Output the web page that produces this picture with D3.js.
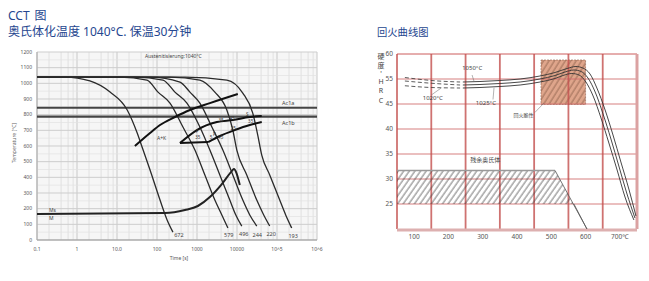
<!DOCTYPE html>
<html>
<head>
<meta charset="utf-8">
<script src="https://cdn.jsdelivr.net/npm/d3@7"></script>
<style>
body{margin:0;background:#fff}
svg{display:block}
text{font-family:"Noto Sans","Noto Sans CJK SC",sans-serif}
</style>
</head>
<body>
<svg width="649" height="281"></svg>
<script>
// ---------- CCT diagram data (time in s, temperature in °C) ----------
var cctTimeTicks = [0.1, 1, 10, 100, 1000, 10000, 1e5, 1e6];
var cctTimeLabels = ["0.1", "1", "10.0", "100", "1000", "10000", "10^5", "10^6"];
var cctTempTicks = d3.range(0, 1201, 100);
var acNames = ["Ac1a", "Ac1b"];
var acTemps = [844, 787];

var cool1 = [[0.1,1040],[0.5,1040],[2.1,1015],[6.7,944],[18,830],[32,683],[45,574],[67,447],[119,255],[179,128],[250,50]];
var cool2 = [[0.1,1040],[12,1040],[56,1021],[106,944],[211,874],[445,721],[887,574],[1574,415],[2794,255],[4178,160],[5900,77]];
var cool3 = [[0.1,1040],[28,1040],[141,1021],[281,944],[560,874],[1180,721],[2099,574],[3724,415],[6607,255],[9333,160],[13180,89]];
var cool4 = [[0.1,1040],[67,1040],[375,1008],[666,944],[1180,874],[2355,721],[4426,574],[7857,415],[13960,255],[20850,160],[31180,89]];
var cool5 = [[0.1,1040],[211,1040],[1180,1021],[2797,944],[5570,830],[7857,702],[9890,574],[17540,415],[31180,255],[46560,160],[65800,89]];
var cool6 = [[0.1,1040],[499,1040],[5570,1021],[13960,938],[24770,810],[33010,670],[41560,542],[65800,415],[116900,255],[164900,160],[232700,77]];
var coolCurves = [cool1, cool2, cool3, cool4, cool5, cool6];
var coolLabels = ["672", "579", "496", "244", "220", "193"];
var coolLabelTimes = [354, 6240, 14760, 32080, 71620, 253500];
var coolLabelTemps = [18, 18, 24, 18, 24, 12];

var ferriteStart = [[28,600],[67,683],[119,734],[281,785],[666,830],[2099,874],[10470,932]];
var pearliteOuter = [[375,619],[995,702],[3135,753],[7857,766],[20850,785],[41560,791]];
var pearliteBase = [[375,619],[1900,625]];
var pearliteInner = [[1900,625],[3724,664],[8810,702],[20850,734],[41560,753]];
var msCurve = [[0.1,166],[158,172],[499,191],[1053,217],[2099,274],[4178,357],[7413,440],[8318,453],[11750,351]];

var regionLabels = [["F",1000,680],["35",1050,645],["5",2250,645],["P",2700,665],["45",3900,645],
                    ["25",8100,700],["35",4000,755],["45",7500,765],["S",18000,790],["35",22000,745]];

// ---------- tempering curve data (°C, HRC) ----------
var tempTicks = [100, 200, 300, 400, 500, 600, 700];
var tempTickLabels = ["100", "200", "300", "400", "500", "600", "700℃"];
var tempGrid = [50, 150, 250, 350, 450, 550, 650, 750];
var hrcTicks = [25, 30, 35, 40, 45, 55, 60];

var dash1 = [[73,55.3],[150,54.4],[234,53.8]];
var dash2 = [[73,54.2],[150,53.3],[234,52.6]];
var dash3 = [[73,52.3],[150,51.6],[234,51.4]];
var hard1050 = [[242,53.8],[292,54.0],[350,54.4],[409,55.0],[467,55.6],[511,56.3],[546,57.1],[572,57.5],[592,57.2],[613,56.0],[633,51.4],[657,43.8],[680,38.8],[703,33.4],[727,27.8],[747,22.6]];
var hardMid = [[242,52.6],[292,52.8],[350,53.2],[409,53.8],[467,55.0],[511,55.7],[540,56.4],[566,56.8],[587,56.5],[607,55.2],[628,49.8],[651,43.0],[674,38.0],[697,32.6],[720,27.2],[744,22.2]];
var hard1025 = [[242,51.4],[292,51.6],[350,52.0],[409,52.6],[467,53.8],[511,55.1],[534,55.7],[560,56.1],[581,55.8],[601,53.8],[622,48.2],[645,42.2],[668,37.2],[692,31.8],[715,26.4],[741,21.8]];
var brittleBox = [470, 600, 58.8, 44.9];
var retainedAustenite = [[50,31.7],[511,31.7],[604,20],[566,25],[50,25]];

var svg = d3.select("svg");
var defs = svg.append("defs");

// ---------- titles ----------
var t1 = svg.append("text").attr("x", 8).attr("y", 20).attr("font-size", 12).attr("fill", "#25468f");
t1.append("tspan").text("CCT");
t1.append("tspan").attr("dx", 5).text("图");
svg.append("text").attr("x", 8).attr("y", 36).attr("font-size", 12).attr("fill", "#25468f").text("奥氏体化温度 1040°C. 保温30分钟");
svg.append("text").attr("x", 377).attr("y", 36).attr("font-size", 10.3).attr("fill", "#25468f").text("回火曲线图");

// ---------- CCT chart ----------
var xL = d3.scaleLog().domain([0.1, 1e6]).range([37, 317]);
var yL = d3.scaleLinear().domain([0, 1200]).range([240, 52]);
var gL = svg.append("g");

gL.append("rect")
  .attr("x", xL(0.1)).attr("y", yL(1200))
  .attr("width", xL(1e6) - xL(0.1)).attr("height", yL(0) - yL(1200))
  .attr("fill", "#f6f6f6");

var minorTimes = [];
for (var e = -1; e < 6; e++) [2, 4, 6, 8].forEach(function(m){ minorTimes.push(m * Math.pow(10, e)); });

gL.selectAll(".vminor").data(minorTimes).enter().append("line")
  .attr("x1", xL).attr("x2", xL).attr("y1", yL(1200)).attr("y2", yL(0))
  .attr("stroke", "#dcdcdc").attr("stroke-width", 0.8);
gL.selectAll(".vmajor").data(cctTimeTicks).enter().append("line")
  .attr("x1", xL).attr("x2", xL).attr("y1", yL(1200)).attr("y2", yL(0))
  .attr("stroke", "#c8c8c8").attr("stroke-width", 1);
gL.selectAll(".hminor").data(d3.range(50, 1200, 100)).enter().append("line")
  .attr("x1", xL(0.1)).attr("x2", xL(1e6)).attr("y1", yL).attr("y2", yL)
  .attr("stroke", "#e2e2e2").attr("stroke-width", 0.7);
gL.selectAll(".hmajor").data(cctTempTicks).enter().append("line")
  .attr("x1", xL(0.1)).attr("x2", xL(1e6)).attr("y1", yL).attr("y2", yL)
  .attr("stroke", "#cdcdcd").attr("stroke-width", 1);

// axes
gL.append("line").attr("x1", xL(0.1)).attr("x2", xL(1e6)).attr("y1", yL(0)).attr("y2", yL(0)).attr("stroke", "#999");
gL.append("line").attr("x1", xL(0.1)).attr("x2", xL(0.1)).attr("y1", yL(0)).attr("y2", yL(1200)).attr("stroke", "#aaa");
gL.selectAll(".xt").data(cctTimeTicks).enter().append("text")
  .attr("x", xL).attr("y", 251).attr("text-anchor", "middle")
  .attr("font-size", 5).attr("fill", "#555")
  .text(function(d, i){ return cctTimeLabels[i]; });
gL.selectAll(".yt").data(cctTempTicks).enter().append("text")
  .attr("x", 32).attr("y", function(d){ return yL(d) + 1.8; }).attr("text-anchor", "end")
  .attr("font-size", 5).attr("fill", "#555")
  .text(function(d){ return d; });
gL.append("text").attr("x", 179).attr("y", 260).attr("text-anchor", "middle")
  .attr("font-size", 5).attr("fill", "#555").text("Time [s]");
gL.append("text").attr("transform", "translate(16,143) rotate(-90)").attr("text-anchor", "middle")
  .attr("font-size", 5).attr("fill", "#666").text("Temperature [°C]");
gL.append("text").attr("x", 145).attr("y", 58).attr("font-size", 5).attr("fill", "#444").text("Austenitisierung:1040°C");

// Ac lines
acTemps.forEach(function(t, i){
  gL.append("line").attr("x1", xL(0.1)).attr("x2", xL(1e6)).attr("y1", yL(t)).attr("y2", yL(t))
    .attr("stroke", "#444").attr("stroke-width", 2.2);
  gL.append("text").attr("x", 282).attr("y", yL(t) + (i === 0 ? -3 : 8))
    .attr("font-size", 5.5).attr("fill", "#444").text(acNames[i]);
});

var lineL = d3.line().x(function(d){ return xL(d[0]); }).y(function(d){ return yL(d[1]); }).curve(d3.curveMonotoneX);

gL.selectAll(".cool").data(coolCurves).enter().append("path")
  .attr("d", lineL).attr("fill", "none").attr("stroke", "#2a2a2a").attr("stroke-width", 1.3);
gL.selectAll(".cl").data(coolLabels).enter().append("text")
  .attr("x", function(d, i){ return xL(coolLabelTimes[i]); })
  .attr("y", function(d, i){ return yL(coolLabelTemps[i]); })
  .attr("text-anchor", "middle").attr("font-size", 5.5).attr("fill", "#444").text(function(d){ return d; });

[ferriteStart, pearliteOuter, pearliteBase, pearliteInner].forEach(function(p){
  gL.append("path").attr("d", lineL(p)).attr("fill", "none").attr("stroke", "#111").attr("stroke-width", 2);
});
gL.append("path").attr("d", lineL(msCurve)).attr("fill", "none").attr("stroke", "#222").attr("stroke-width", 2);

gL.selectAll(".rl").data(regionLabels).enter().append("text")
  .attr("x", function(d){ return xL(d[1]); }).attr("y", function(d){ return yL(d[2]); })
  .attr("text-anchor", "middle").attr("font-size", 4.5).attr("fill", "#333").text(function(d){ return d[0]; });
gL.append("text").attr("x", xL(100)).attr("y", yL(640)).attr("font-size", 5).attr("fill", "#444").text("A+K");
gL.append("text").attr("x", xL(0.2)).attr("y", yL(180)).attr("font-size", 5).attr("fill", "#444").text("Ms");
gL.append("text").attr("x", xL(0.2)).attr("y", yL(125)).attr("font-size", 5).attr("fill", "#444").text("M");

// ---------- tempering chart ----------
var xR = d3.scaleLinear().domain([50, 750]).range([397, 637]);
var yR = d3.scaleLinear().domain([20, 25, 30, 35, 40, 45, 55, 60]).range([229, 204, 179, 154, 129, 104, 79, 54]);
var gR = svg.append("g");

var hA = defs.append("pattern").attr("id", "hatchA").attr("patternUnits", "userSpaceOnUse")
  .attr("width", 4.6).attr("height", 10).attr("patternTransform", "rotate(35)");
hA.append("line").attr("x1", 1).attr("x2", 1).attr("y1", 0).attr("y2", 10).attr("stroke", "#333").attr("stroke-width", 0.7);
var hB = defs.append("pattern").attr("id", "hatchB").attr("patternUnits", "userSpaceOnUse")
  .attr("width", 4.6).attr("height", 10).attr("patternTransform", "rotate(32)");
hB.append("rect").attr("width", 4.6).attr("height", 10).attr("fill", "#dfa58b");
hB.append("line").attr("x1", 1).attr("x2", 1).attr("y1", 0).attr("y2", 10).attr("stroke", "#6a4332").attr("stroke-width", 0.6);

// brittleness box (under the grid)
gR.append("rect")
  .attr("x", xR(brittleBox[0])).attr("y", yR(brittleBox[2]))
  .attr("width", xR(brittleBox[1]) - xR(brittleBox[0])).attr("height", yR(brittleBox[3]) - yR(brittleBox[2]))
  .attr("fill", "url(#hatchB)").attr("stroke", "#8a5a48").attr("stroke-width", 0.6).attr("stroke-dasharray", "2,1");

gR.selectAll(".hg").data([25, 30, 35, 40, 45, 55]).enter().append("line")
  .attr("x1", xR(50)).attr("x2", xR(750)).attr("y1", yR).attr("y2", yR)
  .attr("stroke", "#d06a6a").attr("stroke-width", 1).attr("opacity", 0.85);
gR.append("line").attr("x1", xR(50)).attr("x2", xR(750)).attr("y1", yR(60)).attr("y2", yR(60))
  .attr("stroke", "#cc5d5d").attr("stroke-width", 1);
gR.selectAll(".vg").data(tempGrid.slice(0, 7)).enter().append("line")
  .attr("x1", xR).attr("x2", xR).attr("y1", yR(60)).attr("y2", yR(20))
  .attr("stroke", "#c4504e").attr("stroke-width", 1.8).attr("opacity", 0.8);
gR.append("line").attr("x1", xR(750)).attr("x2", xR(750)).attr("y1", yR(60)).attr("y2", yR(20))
  .attr("stroke", "#dba2a2").attr("stroke-width", 3);
gR.append("line").attr("x1", xR(50)).attr("x2", xR(750)).attr("y1", yR(20) + 1).attr("y2", yR(20) + 1)
  .attr("stroke", "#ddb0b0").attr("stroke-width", 3);

// retained austenite band
var lineR = d3.line().x(function(d){ return xR(d[0]); }).y(function(d){ return yR(d[1]); });
gR.append("path").attr("d", lineR(retainedAustenite) + "Z").attr("fill", "url(#hatchA)");
gR.append("path").attr("d", lineR(retainedAustenite.slice(0, 2))).attr("stroke", "#999").attr("stroke-width", 1.5).attr("fill", "none");
gR.append("path").attr("d", lineR(retainedAustenite.slice(1, 4))).attr("stroke", "#555").attr("stroke-width", 0.8).attr("fill", "none");

gR.selectAll(".xt").data(tempTicks).enter().append("text")
  .attr("x", xR).attr("y", 239).attr("text-anchor", "middle")
  .attr("font-size", 6.5).attr("fill", "#555").text(function(d, i){ return tempTickLabels[i]; });
gR.selectAll(".yt").data(hrcTicks).enter().append("text")
  .attr("x", 393).attr("y", function(d){ return yR(d) + 2.3; }).attr("text-anchor", "end")
  .attr("font-size", 6.5).attr("fill", "#555").text(function(d){ return d; });
[["硬",56],["度",65],["'",73],["H",81],["R",90],["C",100]].forEach(function(c){
  gR.append("text").attr("x", 381).attr("y", c[1] + 2.5).attr("text-anchor", "middle")
    .attr("font-size", 7).attr("fill", "#444").text(c[0]);
});

var curveR = d3.line().x(function(d){ return xR(d[0]); }).y(function(d){ return yR(d[1]); }).curve(d3.curveMonotoneX);
[dash1, dash2, dash3].forEach(function(p){
  gR.append("path").attr("d", curveR(p)).attr("fill", "none").attr("stroke", "#333").attr("stroke-width", 0.8).attr("stroke-dasharray", "4,2.5");
});
[hard1050, hardMid, hard1025].forEach(function(p){
  gR.append("path").attr("d", curveR(p)).attr("fill", "none").attr("stroke", "#333").attr("stroke-width", 0.9);
});

// annotations
function note(txt, x, y, size){
  gR.append("text").attr("x", x).attr("y", y).attr("font-size", size).attr("fill", "#444").text(txt);
}
function leader(x1, y1, x2, y2){
  gR.append("line").attr("x1", x1).attr("y1", y1).attr("x2", x2).attr("y2", y2).attr("stroke", "#666").attr("stroke-width", 0.5);
}
note("1050°C", xR(240), yR(56.8), 6);
leader(xR(269), yR(55.8), xR(275), yR(53.9));
note("1020°C", xR(125), yR(46.6), 6);
leader(xR(150), yR(48.6), xR(178), yR(51.3));
note("1025°C", xR(280), yR(44.9), 6);
leader(xR(330), yR(46.8), xR(333), yR(51.5));
note("回火脆性", xR(390), yR(42.4), 5);
leader(xR(452), yR(43.3), xR(478), yR(45.3));
note("残余奥氏体", xR(264), yR(33.4), 6);
</script>
</body>
</html>
